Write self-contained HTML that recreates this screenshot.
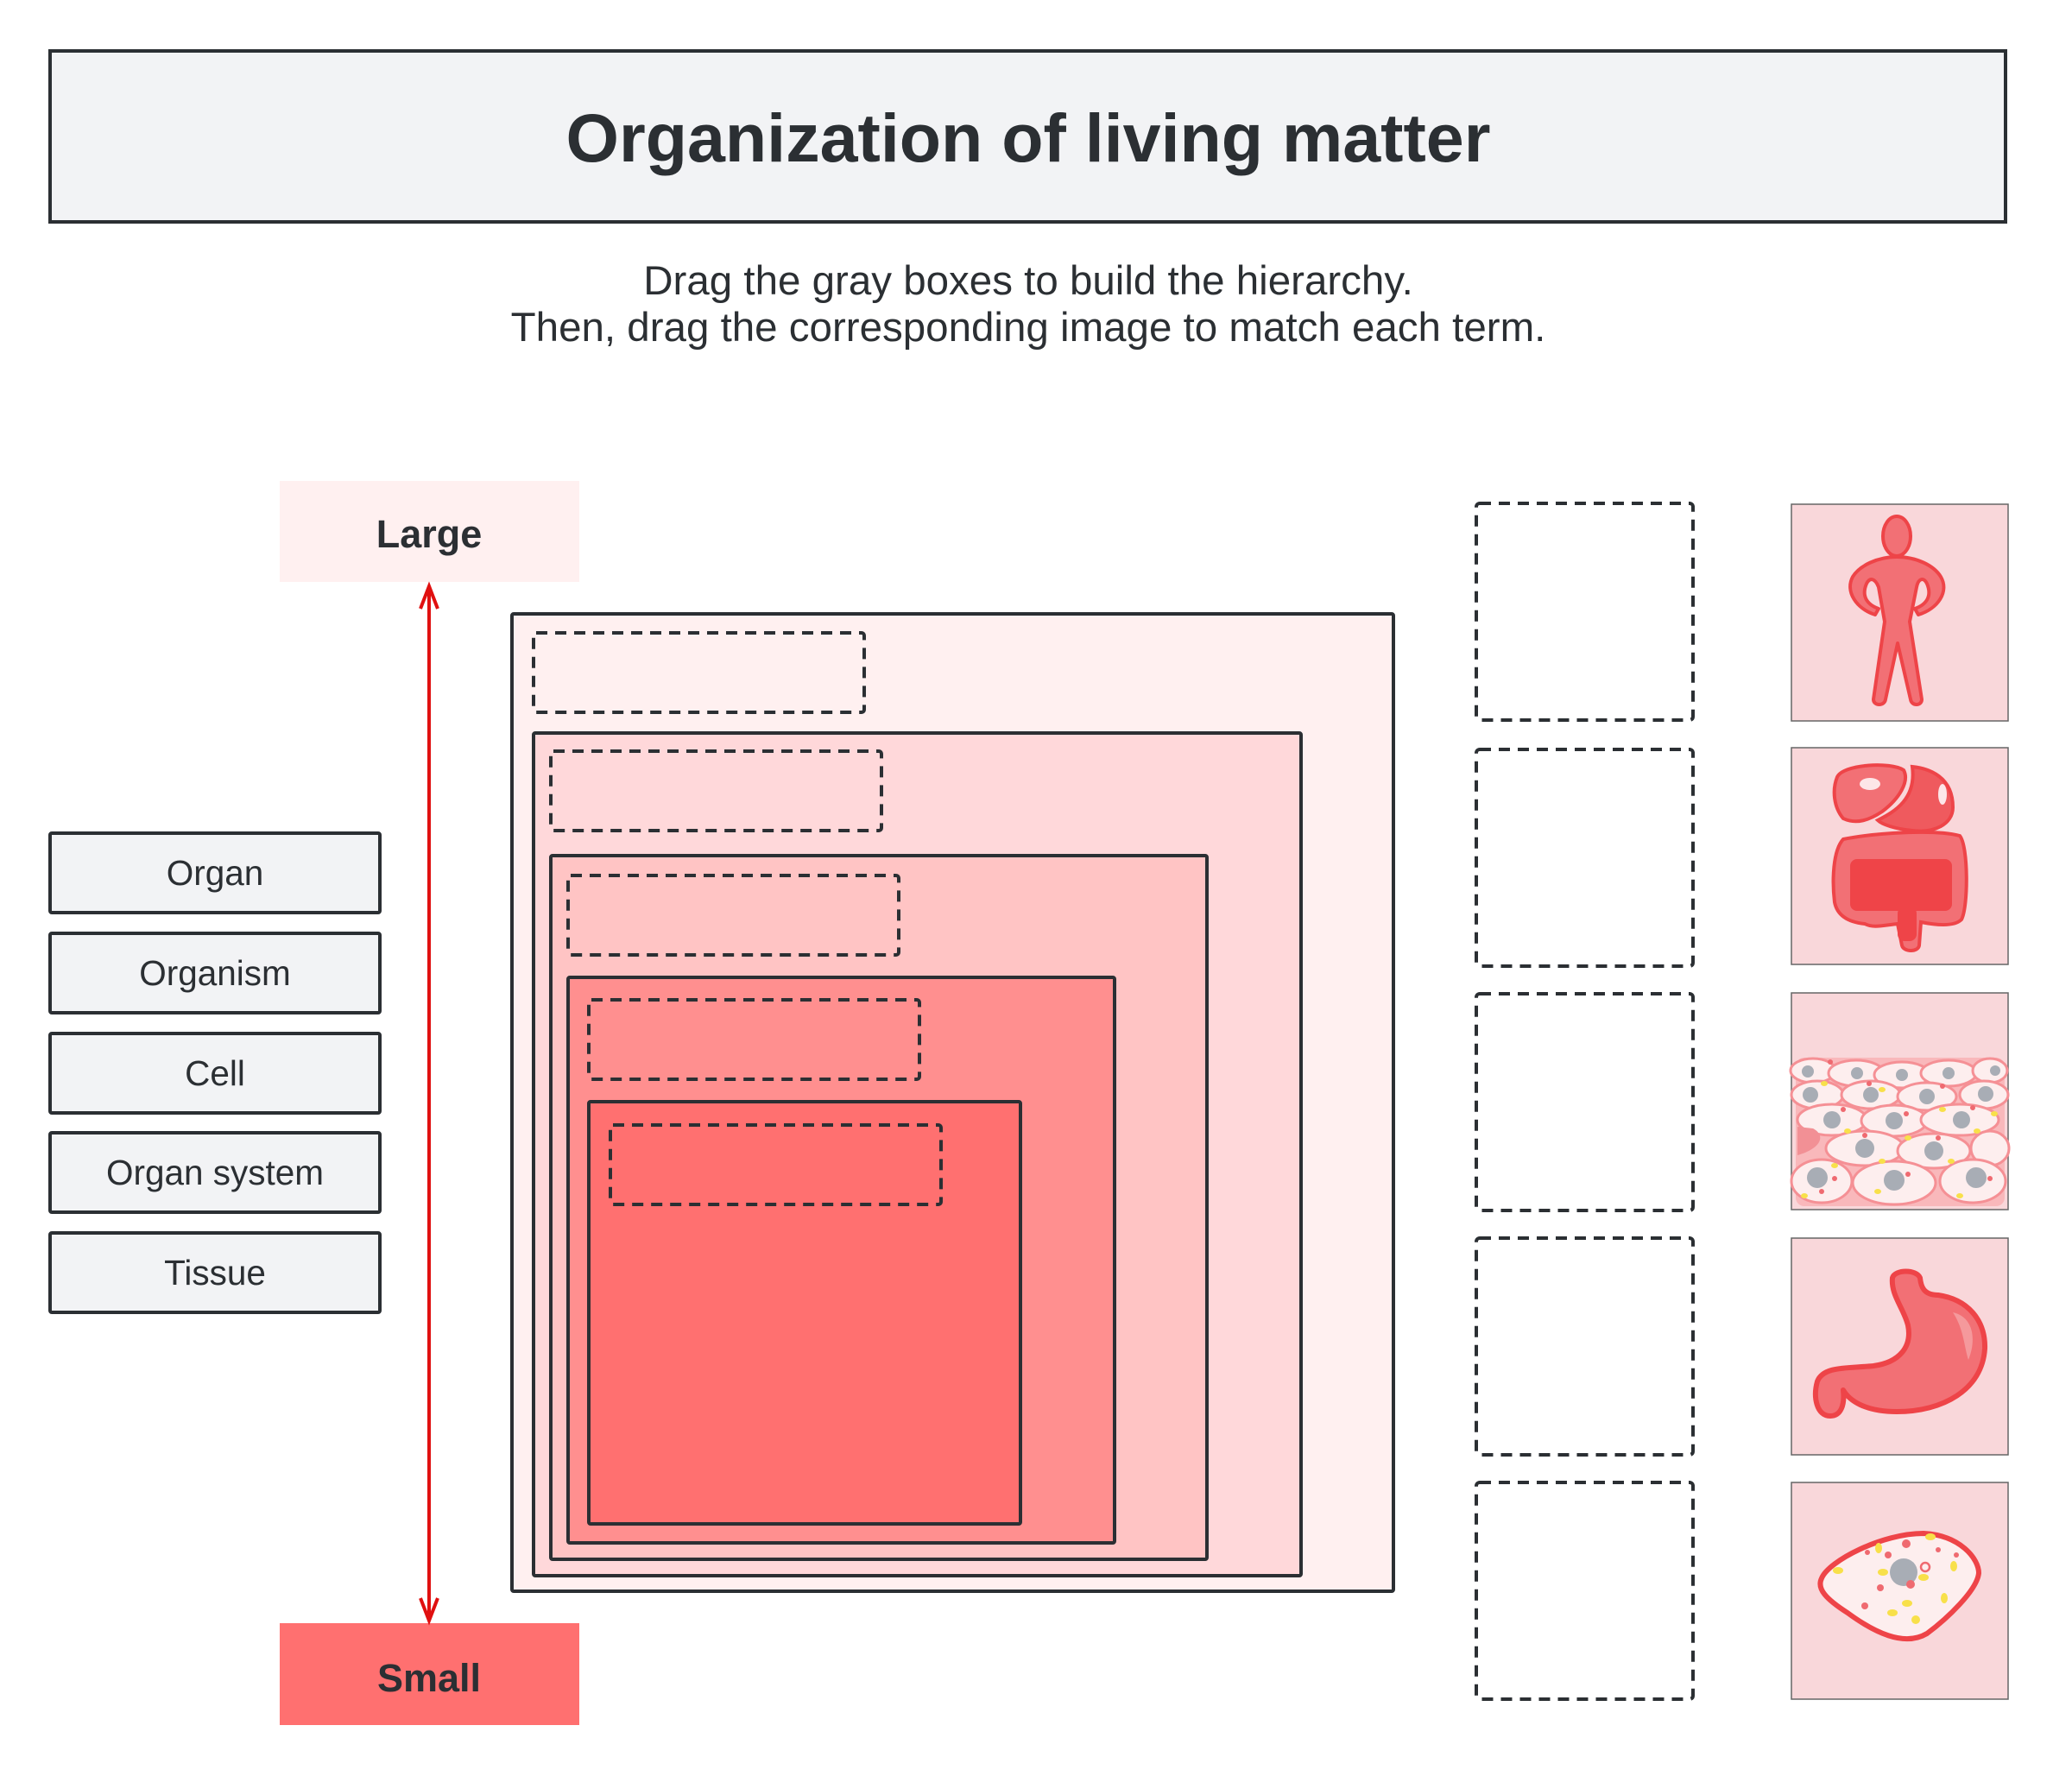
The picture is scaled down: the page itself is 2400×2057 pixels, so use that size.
<!DOCTYPE html>
<html><head><meta charset="utf-8"><style>
html,body{margin:0;padding:0;background:#fff}
svg{display:block}
text{font-family:"Liberation Sans",sans-serif;fill:#2b2f33}
</style></head><body>
<svg width="2400" height="2057" viewBox="0 0 2400 2057" xmlns="http://www.w3.org/2000/svg">
<rect x="0" y="0" width="2400" height="2057" fill="#fff"/>
<!-- title -->
<rect x="58" y="59" width="2265" height="198" fill="#f2f3f5" stroke="#2b2f33" stroke-width="4"/>
<text x="1191" y="187" font-size="79" font-weight="bold" text-anchor="middle">Organization of living matter</text>
<text x="1191" y="341" font-size="47.5" text-anchor="middle">Drag the gray boxes to build the hierarchy.</text>
<text x="1191" y="395" font-size="47.5" text-anchor="middle">Then, drag the corresponding image to match each term.</text>

<!-- Large / Small -->
<rect x="324" y="557" width="347" height="117" fill="#fff0f0"/>
<text x="497" y="634" font-size="45" font-weight="bold" text-anchor="middle">Large</text>
<rect x="324" y="1880" width="347" height="118" fill="#ff7070"/>
<text x="497" y="1959" font-size="45" font-weight="bold" text-anchor="middle">Small</text>
<line x1="497" y1="682" x2="497" y2="1874" stroke="#e01010" stroke-width="4"/>
<polyline points="487,705 497,679 507,705" fill="none" stroke="#e01010" stroke-width="4"/>
<polyline points="487,1851 497,1877 507,1851" fill="none" stroke="#e01010" stroke-width="4"/>

<!-- term boxes -->
<g stroke="#2b2f33" stroke-width="4" fill="#f2f3f5">
<rect x="58" y="965" width="382" height="92" rx="2"/>
<rect x="58" y="1081" width="382" height="92" rx="2"/>
<rect x="58" y="1197" width="382" height="92" rx="2"/>
<rect x="58" y="1312" width="382" height="92" rx="2"/>
<rect x="58" y="1428" width="382" height="92" rx="2"/>
</g>
<g font-size="40.5" text-anchor="middle">
<text x="249" y="1025">Organ</text>
<text x="249" y="1141">Organism</text>
<text x="249" y="1257">Cell</text>
<text x="249" y="1372">Organ system</text>
<text x="249" y="1488">Tissue</text>
</g>

<!-- nested boxes -->
<g stroke="#2b2f33" stroke-width="4">
<rect x="593" y="711" width="1021" height="1132" fill="#fff0f0" rx="2"/>
<rect x="618" y="849" width="889" height="976" fill="#ffd8da" rx="2"/>
<rect x="638" y="991" width="760" height="815" fill="#ffc4c4" rx="2"/>
<rect x="658" y="1132" width="633" height="655" fill="#ff8f8f" rx="2"/>
<rect x="682" y="1276" width="500" height="489" fill="#ff7070" rx="2"/>
</g>
<g stroke="#2b2f33" stroke-width="4" fill="none" stroke-dasharray="13 9">
<rect x="618" y="733" width="383" height="92" rx="3"/>
<rect x="638" y="870" width="383" height="92" rx="3"/>
<rect x="658" y="1014" width="383" height="92" rx="3"/>
<rect x="682" y="1158" width="383" height="92" rx="3"/>
<rect x="707" y="1303" width="383" height="92" rx="3"/>
</g>

<!-- slots -->
<g stroke="#2b2f33" stroke-width="4" fill="none" stroke-dasharray="13 9">
<rect x="1710" y="583" width="251" height="251" rx="4"/>
<rect x="1710" y="868" width="251" height="251" rx="4"/>
<rect x="1710" y="1151" width="251" height="251" rx="4"/>
<rect x="1710" y="1434" width="251" height="251" rx="4"/>
<rect x="1710" y="1717" width="251" height="251" rx="4"/>
</g>

<!-- image tiles -->
<g stroke="#666" stroke-width="1.5" fill="#f9d7da">
<rect x="2075" y="584" width="251" height="251"/>
<rect x="2075" y="866" width="251" height="251"/>
<rect x="2075" y="1150" width="251" height="251"/>
<rect x="2075" y="1434" width="251" height="251"/>
<rect x="2075" y="1717" width="251" height="251"/>
</g>

<!-- human -->
<ellipse cx="2197" cy="621" rx="16" ry="23" fill="#f27075" stroke="#ee4448" stroke-width="4"/>
<path d="M2197,645 C2220,645 2240,655 2248,668 C2258,685 2245,705 2222,712 L2218,705 C2232,700 2238,690 2232,676 C2228,668 2222,670 2220,680 L2212,720 L2226,810 C2226,818 2214,818 2213,810 L2198,745 L2184,810 C2183,818 2170,818 2170,810 L2183,720 L2176,680 C2172,670 2166,668 2162,676 C2156,690 2162,700 2176,705 L2172,712 C2150,705 2137,685 2146,668 C2154,655 2175,645 2197,645Z" fill="#f27075" stroke="#ee4448" stroke-width="4" stroke-linejoin="round"/>

<!-- digestive -->
<path d="M2128,900 C2135,885 2190,882 2205,892 C2212,905 2200,925 2180,940 C2165,950 2150,955 2135,948 C2124,935 2122,915 2128,900Z" fill="#f27075" stroke="#ee4448" stroke-width="4"/>
<path d="M2215,888 C2235,890 2262,900 2262,935 C2262,955 2240,965 2215,962 C2195,960 2180,955 2175,950 C2195,940 2220,925 2215,888Z" fill="#ef5a5e" stroke="#ee4448" stroke-width="4"/>
<path d="M2135,972 C2170,965 2240,960 2270,968 C2280,980 2280,1050 2272,1065 C2262,1075 2235,1070 2225,1068 L2223,1095 C2222,1103 2205,1103 2203,1095 L2198,1070 C2180,1072 2170,1075 2160,1070 C2140,1068 2128,1060 2125,1045 C2122,1020 2123,985 2135,972Z" fill="#f27075" stroke="#ee4448" stroke-width="4"/>
<rect x="2143" y="995" width="118" height="60" rx="8" fill="#ef4448"/>
<rect x="2198" y="1050" width="22" height="40" rx="8" fill="#ef4448"/>
<ellipse cx="2166" cy="908" rx="12" ry="7" fill="#fde6e8"/>
<ellipse cx="2250" cy="920" rx="5" ry="12" fill="#fde6e8"/>

<!-- tissue -->
<g>
<rect x="2080" y="1225" width="242" height="172" rx="10" fill="#f9b8bb"/>
<g fill="#fdeeee" stroke="#f59095" stroke-width="3">
<ellipse cx="2100" cy="1240" rx="26" ry="14"/><ellipse cx="2150" cy="1243" rx="32" ry="15"/><ellipse cx="2203" cy="1245" rx="32" ry="15"/><ellipse cx="2257" cy="1243" rx="32" ry="15"/><ellipse cx="2305" cy="1240" rx="20" ry="14"/>
<ellipse cx="2105" cy="1268" rx="30" ry="16"/><ellipse cx="2167" cy="1268" rx="34" ry="16"/><ellipse cx="2232" cy="1270" rx="34" ry="16"/><ellipse cx="2298" cy="1268" rx="28" ry="16"/>
<ellipse cx="2122" cy="1297" rx="40" ry="18"/><ellipse cx="2194" cy="1298" rx="38" ry="18"/><ellipse cx="2270" cy="1297" rx="45" ry="18"/>
<ellipse cx="2160" cy="1330" rx="45" ry="20"/><ellipse cx="2240" cy="1333" rx="42" ry="20"/><ellipse cx="2305" cy="1330" rx="22" ry="20"/>
<ellipse cx="2110" cy="1368" rx="35" ry="25"/><ellipse cx="2194" cy="1370" rx="48" ry="25"/><ellipse cx="2285" cy="1368" rx="38" ry="25"/>
</g>
<path d="M2082,1305 L2100,1307 C2115,1315 2110,1330 2082,1338Z" fill="#f29095"/>
<g fill="#a8adb5">
<circle cx="2094" cy="1241" r="7"/><circle cx="2151" cy="1243" r="7"/><circle cx="2203" cy="1245" r="7"/><circle cx="2257" cy="1243" r="7"/><circle cx="2311" cy="1240" r="6"/>
<circle cx="2097" cy="1268" r="9"/><circle cx="2167" cy="1268" r="9"/><circle cx="2232" cy="1270" r="9"/><circle cx="2300" cy="1267" r="9"/>
<circle cx="2122" cy="1297" r="10"/><circle cx="2194" cy="1298" r="10"/><circle cx="2272" cy="1297" r="10"/>
<circle cx="2160" cy="1330" r="11"/><circle cx="2240" cy="1333" r="11"/>
<circle cx="2105" cy="1364" r="12"/><circle cx="2194" cy="1367" r="12"/><circle cx="2289" cy="1364" r="12"/>
</g>
<g fill="#f8e04a">
<ellipse cx="2113" cy="1255" rx="4" ry="3"/><ellipse cx="2180" cy="1262" rx="4" ry="3"/><ellipse cx="2250" cy="1285" rx="4" ry="3"/><ellipse cx="2140" cy="1310" rx="4" ry="3"/><ellipse cx="2210" cy="1318" rx="4" ry="3"/><ellipse cx="2290" cy="1310" rx="4" ry="3"/><ellipse cx="2125" cy="1350" rx="4" ry="3"/><ellipse cx="2180" cy="1345" rx="4" ry="3"/><ellipse cx="2260" cy="1345" rx="4" ry="3"/><ellipse cx="2090" cy="1385" rx="4" ry="3"/><ellipse cx="2175" cy="1380" rx="4" ry="3"/><ellipse cx="2270" cy="1385" rx="4" ry="3"/><ellipse cx="2310" cy="1290" rx="4" ry="3"/>
</g>
<g fill="#ef6a70">
<circle cx="2120" cy="1230" r="3"/><circle cx="2165" cy="1255" r="3"/><circle cx="2250" cy="1258" r="3"/><circle cx="2135" cy="1285" r="3"/><circle cx="2208" cy="1290" r="3"/><circle cx="2285" cy="1283" r="3"/><circle cx="2160" cy="1315" r="3"/><circle cx="2245" cy="1318" r="3"/><circle cx="2125" cy="1365" r="3"/><circle cx="2210" cy="1360" r="3"/><circle cx="2305" cy="1365" r="3"/><circle cx="2110" cy="1380" r="3"/>
</g>
</g>

<!-- stomach -->
<path d="M2192,1480 C2195,1470 2220,1470 2224,1480 C2225,1490 2228,1500 2245,1500 C2280,1505 2300,1530 2299,1562 C2296,1610 2250,1635 2197,1635 C2160,1635 2142,1622 2135,1610 C2137,1628 2132,1640 2120,1640 C2104,1640 2100,1618 2105,1600 C2112,1582 2140,1585 2170,1582 C2200,1578 2215,1560 2210,1535 C2205,1515 2190,1500 2192,1480Z" fill="#f27075" stroke="#ee4448" stroke-width="6" stroke-linejoin="round"/>
<path d="M2262,1520 C2285,1525 2290,1550 2280,1575 C2275,1560 2275,1540 2262,1520Z" fill="#f5999c"/>

<!-- cell -->
<path d="M2110,1828 C2118,1808 2180,1776 2228,1776 C2270,1778 2292,1805 2292,1822 C2290,1842 2255,1875 2232,1892 C2205,1908 2170,1890 2140,1868 C2115,1852 2104,1840 2110,1828Z" fill="#fdeeee" stroke="#ee4448" stroke-width="6" stroke-linejoin="round"/>
<circle cx="2205" cy="1821" r="16" fill="#a8adb5"/>
<g fill="#f8e04a">
<ellipse cx="2129" cy="1819" rx="6" ry="4"/><ellipse cx="2181" cy="1821" rx="6" ry="4"/><ellipse cx="2176" cy="1793" rx="4" ry="6"/><ellipse cx="2236" cy="1780" rx="6" ry="4"/><ellipse cx="2263" cy="1814" rx="4" ry="6"/><ellipse cx="2228" cy="1827" rx="6" ry="4"/><ellipse cx="2209" cy="1857" rx="6" ry="4"/><ellipse cx="2252" cy="1851" rx="4" ry="6"/><ellipse cx="2192" cy="1868" rx="6" ry="4"/><ellipse cx="2219" cy="1876" rx="5" ry="5"/>
</g>
<g fill="#ef6a70">
<circle cx="2208" cy="1788" r="5"/><circle cx="2187" cy="1801" r="4"/><circle cx="2163" cy="1798" r="3"/><circle cx="2245" cy="1795" r="3"/><circle cx="2266" cy="1801" r="3"/><circle cx="2213" cy="1835" r="5"/><circle cx="2178" cy="1839" r="4"/><circle cx="2160" cy="1860" r="4"/>
</g>
<circle cx="2230" cy="1815" r="5" fill="none" stroke="#ef6a70" stroke-width="2.5"/>
</svg>
</body></html>
